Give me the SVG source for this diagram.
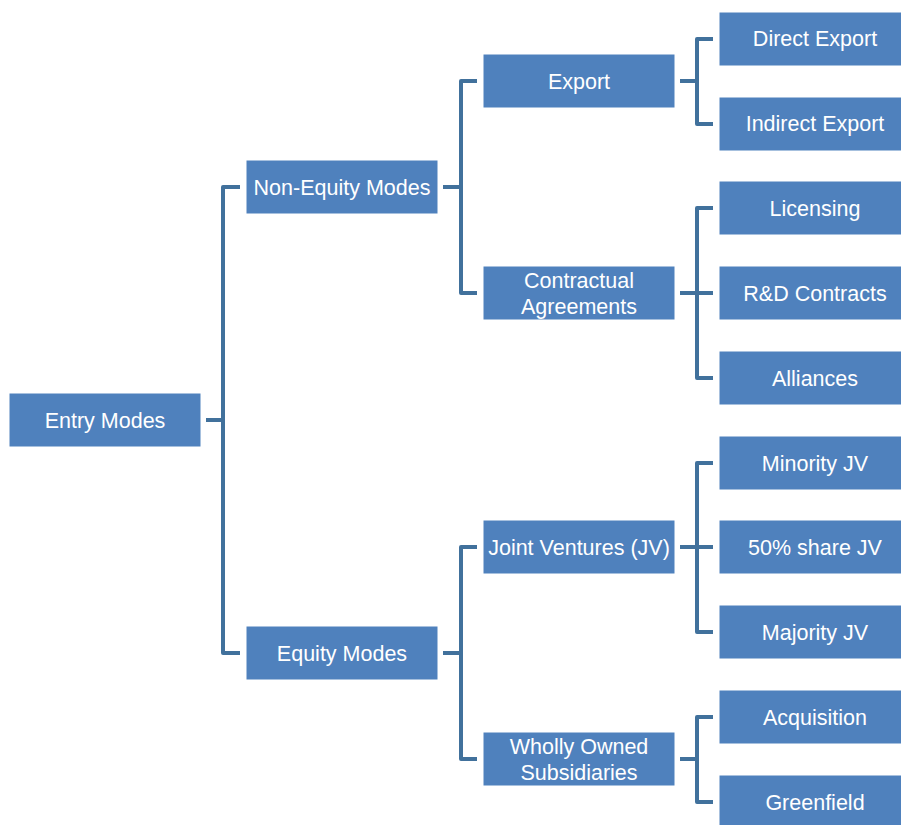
<svg xmlns="http://www.w3.org/2000/svg" width="901" height="825" viewBox="0 0 901 825">
<style>
.box{fill:#4f81bd;stroke:#ffffff;stroke-width:1}
.t{font-family:"Liberation Sans",Arial,sans-serif;font-size:21.5px;fill:#ffffff;text-anchor:middle}
.c{fill:none;stroke:#41719c;stroke-width:4;stroke-linejoin:round;stroke-linecap:butt}
</style>
<rect width="901" height="825" fill="#ffffff"/>
<g id="connectors">
<path class="c" d="M206 420 H223 M240 187 H223 V653 H240"/>
<path class="c" d="M443 187 H461 M477 81 H461 V293 H477"/>
<path class="c" d="M443 653 H461 M477 547 H461 V759 H477"/>
<path class="c" d="M680 81 H697 M713 39 H697 V124 H713"/>
<path class="c" d="M680 293 H713 M713 208 H697 V378 H713"/>
<path class="c" d="M680 547 H713 M713 463 H697 V632 H713"/>
<path class="c" d="M680 759 H697 M713 717 H697 V802 H713"/>
</g>
<g id="entry"><rect class="box" x="9" y="393" width="192" height="54"/><text class="t" x="105" y="428">Entry Modes</text></g>
<g id="nonequity"><rect class="box" x="246" y="160" width="192" height="54"/><text class="t" x="342" y="195">Non-Equity Modes</text></g>
<g id="equity"><rect class="box" x="246" y="626" width="192" height="54"/><text class="t" x="342" y="661">Equity Modes</text></g>
<g id="export"><rect class="box" x="483" y="54" width="192" height="54"/><text class="t" x="579" y="89">Export</text></g>
<g id="contractual"><rect class="box" x="483" y="266" width="192" height="54"/><text class="t" x="579" y="288">Contractual</text><text class="t" x="579" y="314">Agreements</text></g>
<g id="jv"><rect class="box" x="483" y="520" width="192" height="54"/><text class="t" x="579" y="555">Joint Ventures (JV)</text></g>
<g id="wholly"><rect class="box" x="483" y="732" width="192" height="54"/><text class="t" x="579" y="754">Wholly Owned</text><text class="t" x="579" y="780">Subsidiaries</text></g>
<g id="direct"><rect class="box" x="719" y="12" width="192" height="54"/><text class="t" x="815" y="46">Direct Export</text></g>
<g id="indirect"><rect class="box" x="719" y="97" width="192" height="54"/><text class="t" x="815" y="131">Indirect Export</text></g>
<g id="licensing"><rect class="box" x="719" y="181" width="192" height="54"/><text class="t" x="815" y="216">Licensing</text></g>
<g id="rd"><rect class="box" x="719" y="266" width="192" height="54"/><text class="t" x="815" y="301">R&amp;D Contracts</text></g>
<g id="alliances"><rect class="box" x="719" y="351" width="192" height="54"/><text class="t" x="815" y="386">Alliances</text></g>
<g id="minority"><rect class="box" x="719" y="436" width="192" height="54"/><text class="t" x="815" y="471">Minority JV</text></g>
<g id="fifty"><rect class="box" x="719" y="520" width="192" height="54"/><text class="t" x="815" y="555">50% share JV</text></g>
<g id="majority"><rect class="box" x="719" y="605" width="192" height="54"/><text class="t" x="815" y="640">Majority JV</text></g>
<g id="acquisition"><rect class="box" x="719" y="690" width="192" height="54"/><text class="t" x="815" y="725">Acquisition</text></g>
<g id="greenfield"><rect class="box" x="719" y="775" width="192" height="54"/><text class="t" x="815" y="810">Greenfield</text></g>
</svg>
